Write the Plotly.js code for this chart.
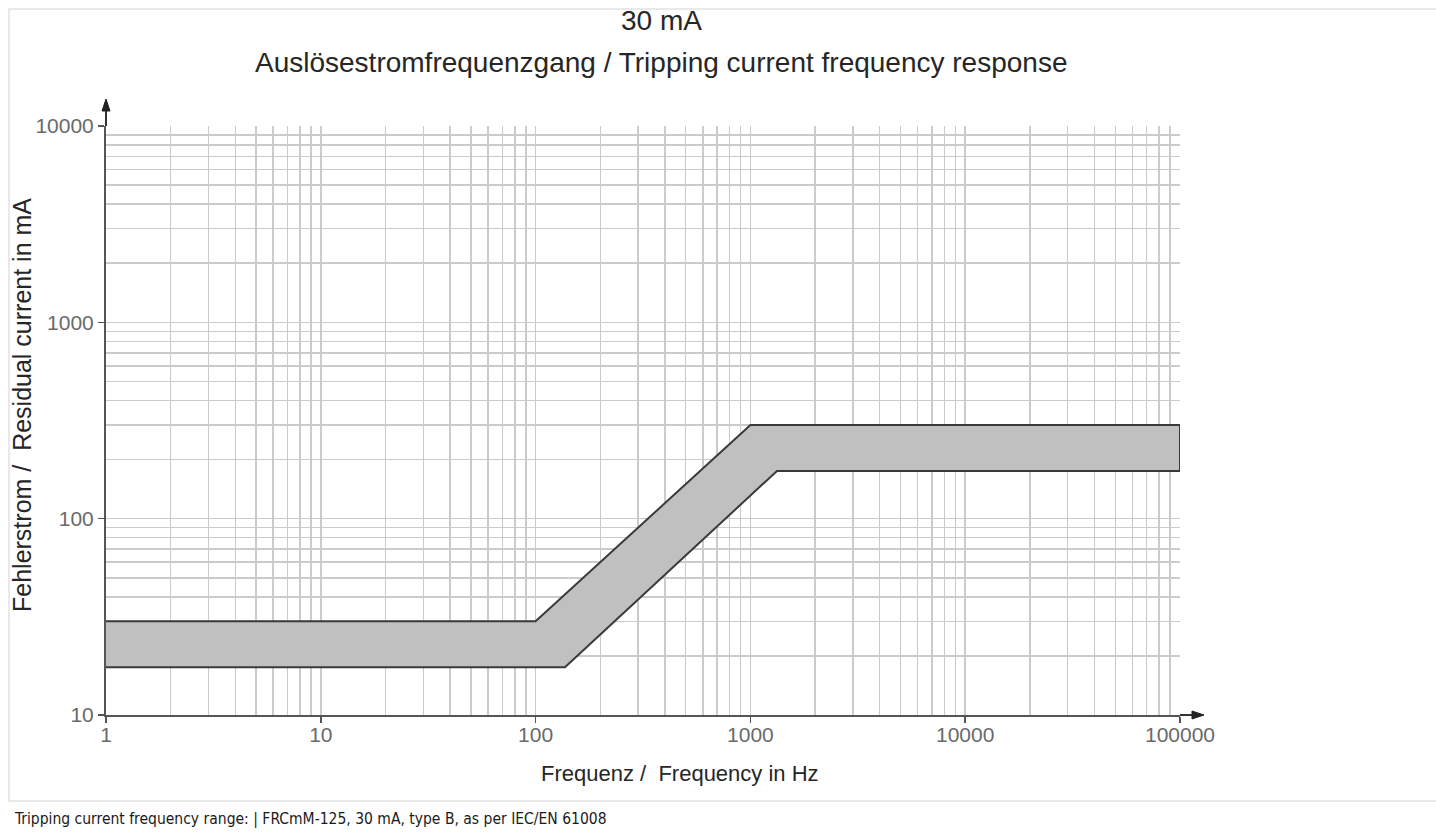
<!DOCTYPE html>
<html>
<head>
<meta charset="utf-8">
<script src="https://cdn.plot.ly/plotly-3.0.1.min.js"></script>
<style>
  html, body { margin: 0; padding: 0; background: #ffffff; }
  #chart { width: 1436px; height: 832px; }
</style>
</head>
<body>
<div id="chart"></div>
<script>
// ---- data ----
const upperFreq = [1, 100, 1000, 100000];          // Hz
const upperCurrent = [30, 30, 300, 300];           // mA
const lowerFreq = [1, 137, 1330, 100000];          // Hz
const lowerCurrent = [17.5, 17.5, 175, 175];       // mA

const xMajorTicks = [1, 10, 100, 1000, 10000, 100000];
const xMajorLabels = ['1', '10', '100', '1000', '10000', '100000'];
const yMajorTicks = [10, 100, 1000, 10000];
const yMajorLabels = ['10', '100', '1000', '10000'];

const titleLine1 = '30 mA';
const titleLine2 = 'Auslösestromfrequenzgang / Tripping current frequency response';
const xTitle = 'Frequenz /  Frequency in Hz';
const yTitle = 'Fehlerstrom /  Residual current in mA';
const caption = 'Tripping current frequency range: | FRCmM-125, 30 mA, type B, as per IEC/EN 61008';

// minor grid values (2..9 within each decade)
function minorVals(lo, hi) {
  const out = [];
  for (let d = lo; d < hi; d *= 10) {
    for (let k = 2; k <= 9; k++) out.push(k * d);
  }
  return out;
}
const xMinor = minorVals(1, 100000);
const yMinor = minorVals(10, 10000);

// band polygon: upper boundary left->right, lower boundary right->left
const bandX = upperFreq.concat(lowerFreq.slice().reverse());
const bandY = upperCurrent.concat(lowerCurrent.slice().reverse());

// ---- layout geometry ----
const W = 1436, H = 832;
const M = { l: 106, r: 256, t: 126, b: 117 };
const plotW = W - M.l - M.r, plotH = H - M.t - M.b;
const px = v => (v - M.l) / plotW;          // pixel x -> paper
const py = v => (H - M.b - v) / plotH;       // pixel y -> paper

const gridColor = '#cbcbcb';
const axisColor = '#555555';
const tickFont = { family: 'Liberation Sans, Arial, sans-serif', size: 21, color: '#6a6a6a' };
const textFont = { family: 'Liberation Sans, Arial, sans-serif', color: '#262626' };

const trace = {
  type: 'scatter',
  mode: 'lines',
  x: bandX,
  y: bandY,
  fill: 'toself',
  fillcolor: '#c0c0c0',
  line: { color: '#3a3a3a', width: 2 },
  hoverinfo: 'skip',
  showlegend: false
};

const layout = {
  width: W, height: H,
  margin: M,
  paper_bgcolor: '#ffffff',
  plot_bgcolor: '#ffffff',
  showlegend: false,
  xaxis: {
    type: 'log',
    range: [0, 5],
    tickmode: 'array',
    tickvals: xMajorTicks,
    ticktext: xMajorLabels,
    tickfont: tickFont,
    ticklabelstandoff: -6,
    ticks: 'outside', ticklen: 6, tickwidth: 1.5, tickcolor: axisColor,
    showgrid: true, gridcolor: gridColor, gridwidth: 1.5,
    minor: { tickmode: 'array', tickvals: xMinor, showgrid: true, gridcolor: gridColor, gridwidth: 1.5, ticks: '' },
    showline: true, linecolor: axisColor, linewidth: 2,
    zeroline: false, fixedrange: true
  },
  yaxis: {
    type: 'log',
    range: [1, 4],
    tickmode: 'array',
    tickvals: yMajorTicks,
    ticktext: yMajorLabels,
    tickfont: tickFont,
    ticks: 'outside', ticklen: 6, tickwidth: 1.5, tickcolor: axisColor,
    showgrid: true, gridcolor: gridColor, gridwidth: 1.5,
    minor: { tickmode: 'array', tickvals: yMinor, showgrid: true, gridcolor: gridColor, gridwidth: 1.5, ticks: '' },
    showline: true, linecolor: axisColor, linewidth: 2,
    zeroline: false, fixedrange: true
  },
  shapes: [
    // outer light frame
    { type: 'rect', xref: 'paper', yref: 'paper', x0: px(9), x1: px(1470), y0: py(801), y1: py(9),
      line: { color: '#e2e2e2', width: 1.5 }, fillcolor: 'rgba(0,0,0,0)', layer: 'below' },
    // y axis extension + arrow head
    { type: 'line', xref: 'paper', yref: 'paper', x0: px(106), x1: px(106), y0: py(126), y1: py(108),
      line: { color: '#333', width: 2 } },
    { type: 'path', xref: 'paper', yref: 'paper',
      path: `M ${px(106)} ${py(99)} L ${px(102)} ${py(111)} L ${px(110)} ${py(111)} Z`,
      fillcolor: '#222', line: { color: '#222', width: 1 } },
    // x axis extension + arrow head
    { type: 'line', xref: 'paper', yref: 'paper', x0: px(1180), x1: px(1195), y0: py(715), y1: py(715),
      line: { color: '#333', width: 2 } },
    { type: 'path', xref: 'paper', yref: 'paper',
      path: `M ${px(1204)} ${py(715)} L ${px(1192)} ${py(711)} L ${px(1192)} ${py(719)} Z`,
      fillcolor: '#222', line: { color: '#222', width: 1 } }
  ],
  annotations: [
    { text: titleLine1, xref: 'paper', yref: 'paper', x: px(661), y: py(21), showarrow: false,
      xanchor: 'center', yanchor: 'middle', font: Object.assign({ size: 28 }, textFont) },
    { text: titleLine2, xref: 'paper', yref: 'paper', x: px(661), y: py(62), showarrow: false,
      xanchor: 'center', yanchor: 'middle', font: Object.assign({ size: 28 }, textFont) },
    { text: xTitle, xref: 'paper', yref: 'paper', x: px(680), y: py(773), showarrow: false,
      xanchor: 'center', yanchor: 'middle', font: Object.assign({ size: 22 }, textFont) },
    { text: yTitle, xref: 'paper', yref: 'paper', x: px(22), y: py(405), showarrow: false,
      textangle: -90, xanchor: 'center', yanchor: 'middle', font: Object.assign({ size: 25 }, textFont) },
    { text: caption, xref: 'paper', yref: 'paper', x: px(12), y: py(819), showarrow: false,
      xanchor: 'left', yanchor: 'middle',
      font: { family: 'Liberation Sans Narrow, DejaVu Sans Condensed, Arial Narrow, sans-serif', size: 15.5, color: '#1a1a1a' } }
  ]
};

Plotly.newPlot('chart', [trace], layout, { displayModeBar: false, staticPlot: true });
</script>
</body>
</html>
